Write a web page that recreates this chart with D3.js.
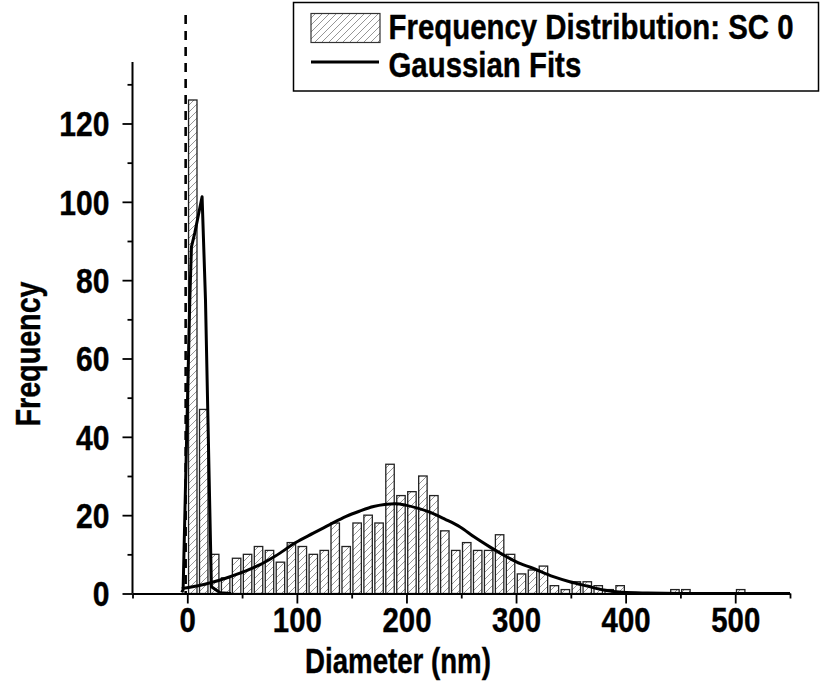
<!DOCTYPE html>
<html><head><meta charset="utf-8">
<script src="https://cdn.jsdelivr.net/npm/d3@7"></script>
<style>
body{margin:0;background:#fff}
text{font-family:'Liberation Sans',Arial,sans-serif;font-weight:bold;fill:#000;stroke:#000;stroke-width:0.4}
</style>
</head><body>
<svg id="c" width="822" height="687"></svg>
<script>
// ---- data ----
const binCenters = [5,15,25,35,45,55,65,75,85,95,105,115,125,135,145,155,165,175,185,195,205,215,225,235,245,255,265,275,285,295,305,315,325,335,345,355,365,375,385,395,405,415,425,435,445,455,465,475,485,495,505];
const counts     = [126,47,10,4,9,10,12,11,8,13,12,10,11,18,12,18,20,18,33,25,26,30,25,16,11,13,11,11,15,10,5,6,7,2,1,3,3,2,1,2,0,0,0,0,1,1,0,0,0,0,1];
const narrowFitX = [-5,-3.8,2.3,3.8,6.8,13.5,16.6,22,30,40];
const narrowFitY = [0.3,1,75,88.5,92,101.3,75,1.7,0.2,0];
const broadFitX  = [-5,10,22,35,48,66,80,99,115,130,145,157,170,180,190,200,210,220,235,249,262,276,290,304,313,334,349,365,380,397,420,450,550];
const broadFitY  = [1.3,2.0,2.8,3.9,5.2,7.3,9.5,13.0,15.4,17.6,19.7,21.0,22.2,22.7,22.9,22.5,21.8,20.9,19.0,17.0,14.4,11.9,9.6,7.6,6.7,4.3,3.0,1.9,0.9,0.3,0.1,0,0];
const xTicks = [0,100,200,300,400,500];
const xMinorTicks = [-50,50,150,250,350,450,550];
const yTicks = [0,20,40,60,80,100,120];
const yMinorTicks = [10,30,50,70,90,110,130];
const refLineX = -1.5;
const binWidth = 7.7;
const legendLabels = ["Frequency Distribution: SC 0","Gaussian Fits"];
const xTitle = "Diameter (nm)";
const yTitle = "Frequency";

// ---- chart ----
const svg = d3.select("#c");
const FS = 35, SX = 0.82;
const x = d3.scaleLinear().domain([-50,550]).range([132.5,790]);
const y = d3.scaleLinear().domain([0,135.7]).range([593.5,62]);

const defs = svg.append("defs");
const pat = defs.append("pattern").attr("id","hatch").attr("patternUnits","userSpaceOnUse")
  .attr("width",7).attr("height",7);
pat.append("rect").attr("width",7).attr("height",7).attr("fill","#fff");
pat.append("path").attr("d","M-1,8 L8,-1 M-1,1 L1,-1 M6,8 L8,6").attr("stroke","#8a8a8a").attr("stroke-width",0.9);

// bars
const bins = binCenters.map((c,i)=>({c, n:counts[i]})).filter(d=>d.n>0);
svg.append("g").selectAll("rect").data(bins).join("rect")
  .attr("x", d=>x(d.c-binWidth/2))
  .attr("width", d=>x(d.c+binWidth/2)-x(d.c-binWidth/2))
  .attr("y", d=>y(d.n))
  .attr("height", d=>y(0)-y(d.n))
  .attr("fill","url(#hatch)")
  .attr("stroke","#222").attr("stroke-width",1.3);

// fits
const line = d3.line().x(d=>x(d[0])).y(d=>y(d[1]));
svg.append("path").attr("d", line(narrowFitX.map((v,i)=>[v,narrowFitY[i]])))
  .attr("fill","none").attr("stroke","#000").attr("stroke-width",3).attr("stroke-linejoin","round");
svg.append("path").attr("d", line.curve(d3.curveMonotoneX)(broadFitX.map((v,i)=>[v,broadFitY[i]])))
  .attr("fill","none").attr("stroke","#000").attr("stroke-width",3).attr("stroke-linejoin","round");

// axes
function styleAxis(g){ g.select(".domain").attr("stroke","#000").attr("stroke-width",2);
  g.selectAll(".tick line").attr("stroke","#000").attr("stroke-width",1.8); }
const gx = svg.append("g").attr("transform",`translate(0,${y(0)})`)
  .call(d3.axisBottom(x).tickValues(xTicks).tickSize(10).tickSizeOuter(0).tickFormat(d3.format("d")));
styleAxis(gx);
gx.selectAll(".tick text").attr("font-size",FS).attr("y",0).attr("dy",0)
  .attr("transform",`translate(0,38.5) scale(0.84,1)`).attr("font-family",null).attr("fill","#000");
const gxm = svg.append("g").attr("transform",`translate(0,${y(0)})`)
  .call(d3.axisBottom(x).tickValues(xMinorTicks).tickSize(5).tickSizeOuter(0).tickFormat(""));
styleAxis(gxm); gxm.select(".domain").remove();

const gy = svg.append("g").attr("transform",`translate(${x(-50)},0)`)
  .call(d3.axisLeft(y).tickValues(yTicks).tickSize(10).tickSizeOuter(0).tickFormat(d3.format("d")));
styleAxis(gy);
gy.selectAll(".tick text").attr("font-size",FS).attr("x",0).attr("dy","0.357em")
  .attr("transform",`translate(-23,0) scale(0.86,1)`).attr("font-family",null).attr("fill","#000");
const gym = svg.append("g").attr("transform",`translate(${x(-50)},0)`)
  .call(d3.axisLeft(y).tickValues(yMinorTicks).tickSize(5).tickSizeOuter(0).tickFormat(""));
styleAxis(gym); gym.select(".domain").remove();
gy.select(".domain").attr("d",`M0,${y(0)}V${y.range()[1]}`);

// titles
svg.append("text").attr("text-anchor","middle").attr("font-size",FS)
  .attr("transform",`translate(398,673) scale(0.79,1)`).text(xTitle);
svg.append("text").attr("text-anchor","middle").attr("font-size",FS)
  .attr("transform",`translate(40,354) rotate(-90) scale(${SX},1)`).text(yTitle);

// reference dashed line
svg.append("line").attr("x1",x(refLineX)).attr("x2",x(refLineX)).attr("y1",15).attr("y2",y(0))
  .attr("stroke","#000").attr("stroke-width",2.6).attr("stroke-dasharray","9,7");

// legend
const lg = svg.append("g");
lg.append("rect").attr("x",293.5).attr("y",2.5).attr("width",525).attr("height",88.5)
  .attr("fill","#fff").attr("stroke","#000").attr("stroke-width",1.5);
lg.append("rect").attr("x",311).attr("y",13.5).attr("width",69).attr("height",29)
  .attr("fill","url(#hatch)").attr("stroke","#333").attr("stroke-width",1.2);
lg.append("line").attr("x1",311).attr("x2",379).attr("y1",62).attr("y2",62)
  .attr("stroke","#000").attr("stroke-width",3);
lg.append("text").attr("font-size",FS).attr("transform",`translate(388.5,39) scale(0.84,1)`).text(legendLabels[0]);
lg.append("text").attr("font-size",FS).attr("transform",`translate(388.5,76.5) scale(0.84,1)`).text(legendLabels[1]);
</script>
</body></html>
